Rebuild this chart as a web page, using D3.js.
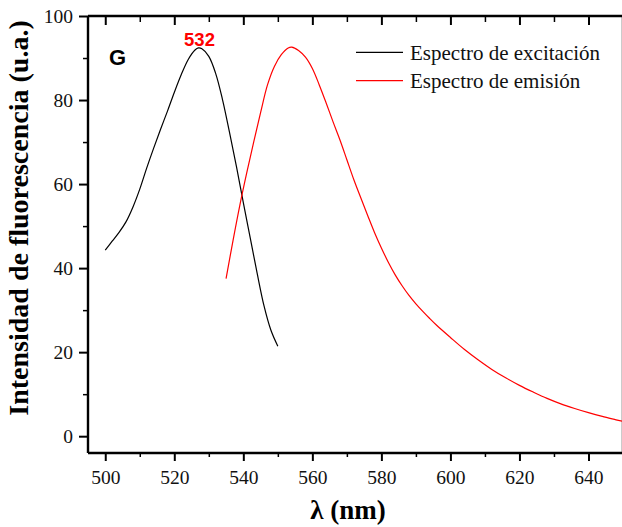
<!DOCTYPE html>
<html>
<head>
<meta charset="utf-8">
<script src="https://cdn.jsdelivr.net/npm/d3@7"></script>
<style>
  body { margin: 0; background: #fff; }
  svg { display: block; }
  .tick text { font-family: "Liberation Serif", "Times New Roman", serif; font-size: 19.5px; fill: #111; }
  .axis path, .axis line { stroke: #000; }
</style>
</head>
<body>
<div id="graph"></div>
<script>
// excitation spectrum (black)
const excWl = [500, 502, 504, 506, 508, 510, 512, 514, 516, 518, 520, 522, 524, 526, 527, 528, 530, 532, 534, 536, 538, 540, 542, 544, 546, 548, 550];
const excVal = [44.3, 46.4, 48.5, 51.0, 54.5, 58.8, 63.8, 68.5, 73.0, 77.3, 81.8, 86.0, 89.6, 91.9, 92.4, 92.2, 90.4, 86.3, 80.0, 72.3, 64.2, 55.6, 47.2, 38.8, 31.0, 25.2, 21.4];

// emission spectrum (red)
const emiWl = [535, 537, 539, 541, 543, 545, 547, 549, 551, 553, 554, 556, 558, 560, 562, 564, 566, 568, 570, 572, 574, 576, 578, 580, 582, 584, 586, 588, 590, 592, 594, 596, 600, 604, 608, 612, 616, 620, 624, 628, 632, 636, 640, 644, 648, 650];
const emiVal = [37.5, 46.5, 55.0, 62.7, 70.0, 77.0, 83.6, 88.0, 90.8, 92.4, 92.6, 91.8, 90.2, 87.5, 83.6, 79.3, 74.8, 70.5, 65.8, 61.1, 56.8, 52.6, 48.5, 44.8, 41.4, 38.4, 35.8, 33.5, 31.5, 29.7, 28.0, 26.4, 23.5, 20.7, 18.2, 15.9, 13.9, 12.1, 10.5, 9.0, 7.7, 6.6, 5.6, 4.7, 3.9, 3.5];

const xTicks = [500, 520, 540, 560, 580, 600, 620, 640];
const xMinor = [510, 530, 550, 570, 590, 610, 630, 650];
const yTicks = [0, 20, 40, 60, 80, 100];
const yMinor = [10, 30, 50, 70, 90];

const legendLabels = ["Espectro de excitación", "Espectro de emisión"];
const legendColors = ["#000", "#ff0000"];

const w = 622;
const h = 527;
const plotLeft = 88, plotRight = 623, plotTop = 16, plotBottom = 453;

const x = d3.scaleLinear().domain([495, 650]).range([plotLeft, plotRight]);
const y = d3.scaleLinear().domain([-4, 100]).range([plotBottom, plotTop]);

const svg = d3.select("#graph").append("svg").attr("width", w).attr("height", h);

// minor ticks first
svg.append("g").attr("class", "axis").attr("transform", `translate(0,${plotBottom})`)
  .call(d3.axisBottom(x).tickValues(xMinor).tickSize(4).tickFormat("").tickSizeOuter(0))
  .call(g => g.select(".domain").remove());
svg.append("g").attr("class", "axis").attr("transform", `translate(0,${plotTop})`)
  .call(d3.axisBottom(x).tickValues(xMinor).tickSize(6).tickFormat("").tickSizeOuter(0))
  .call(g => g.select(".domain").remove());
svg.append("g").attr("class", "axis").attr("transform", `translate(${plotLeft},0)`)
  .call(d3.axisLeft(y).tickValues(yMinor).tickSize(5).tickFormat("").tickSizeOuter(0))
  .call(g => g.select(".domain").remove());
svg.append("g").attr("class", "axis").attr("transform", `translate(${plotRight},0)`)
  .call(d3.axisLeft(y).tickValues(yMinor).tickSize(-5).tickFormat("").tickSizeOuter(0))
  .call(g => g.select(".domain").remove());
svg.selectAll(".axis line").attr("stroke-width", 1.5);

// major axes
const xAxis = svg.append("g").attr("class", "axis").attr("transform", `translate(0,${plotBottom})`)
  .call(d3.axisBottom(x).tickValues(xTicks).tickSize(8).tickPadding(9).tickSizeOuter(0));
const xTop = svg.append("g").attr("class", "axis").attr("transform", `translate(0,${plotTop})`)
  .call(d3.axisBottom(x).tickValues(xTicks).tickSize(9).tickFormat("").tickSizeOuter(0));
const yAxis = svg.append("g").attr("class", "axis").attr("transform", `translate(${plotLeft},0)`)
  .call(d3.axisLeft(y).tickValues(yTicks).tickSize(9).tickPadding(6).tickSizeOuter(0));
const yRight = svg.append("g").attr("class", "axis").attr("transform", `translate(${plotRight},0)`)
  .call(d3.axisLeft(y).tickValues(yTicks).tickSize(-8).tickFormat("").tickSizeOuter(0));

[xAxis, xTop, yAxis, yRight].forEach(g => {
  g.selectAll("line").attr("stroke-width", 2);
  g.select(".domain").attr("stroke-width", 2.4);
});
xAxis.select(".domain").attr("d", `M${plotLeft},0H${plotRight}`);
xTop.select(".domain").attr("d", `M${plotLeft},0H${plotRight}`);
yAxis.select(".domain").attr("d", `M0,${plotTop}V${plotBottom}`);
yRight.select(".domain").attr("d", `M0,${plotTop}V${plotBottom}`);

// curves
const line = d3.line().x(d => x(d[0])).y(d => y(d[1])).curve(d3.curveCatmullRom);

svg.append("path")
  .datum(d3.zip(excWl, excVal))
  .attr("d", line)
  .attr("fill", "none")
  .attr("stroke", legendColors[0])
  .attr("stroke-width", 1.2);

svg.append("path")
  .datum(d3.zip(emiWl, emiVal))
  .attr("d", line)
  .attr("fill", "none")
  .attr("stroke", legendColors[1])
  .attr("stroke-width", 1.2);

// axis titles
svg.append("text")
  .attr("transform", `translate(28,218) rotate(-90)`)
  .attr("text-anchor", "middle")
  .style("font-family", "Liberation Serif, Times New Roman, serif")
  .style("font-weight", "bold")
  .style("font-size", "28px")
  .text("Intensidad de fluorescencia (u.a.)");

svg.append("text")
  .attr("x", 348)
  .attr("y", 519)
  .attr("text-anchor", "middle")
  .style("font-family", "Liberation Serif, Times New Roman, serif")
  .style("font-weight", "bold")
  .style("font-size", "27px")
  .text("λ (nm)");

// annotations
svg.append("text")
  .attr("x", 109)
  .attr("y", 64.5)
  .style("font-family", "Liberation Sans, Arial, sans-serif")
  .style("font-weight", "bold")
  .style("font-size", "22px")
  .text("G");

svg.append("text")
  .attr("x", 199.5)
  .attr("y", 46)
  .attr("text-anchor", "middle")
  .attr("fill", "#ff0000")
  .style("font-family", "Liberation Sans, Arial, sans-serif")
  .style("font-weight", "bold")
  .style("font-size", "18.5px")
  .text("532");

// legend
const legend = svg.append("g").attr("id", "legend");
legendLabels.forEach((lab, i) => {
  const ly = 52.3 + i * 28.4;
  legend.append("line")
    .attr("x1", 356).attr("x2", 403)
    .attr("y1", ly).attr("y2", ly)
    .attr("stroke", legendColors[i])
    .attr("stroke-width", 1.2);
  legend.append("text")
    .attr("x", 410)
    .attr("y", ly + 7.5)
    .style("font-family", "Liberation Serif, Times New Roman, serif")
    .style("font-size", "21px")
    .attr("fill", "#111")
    .text(lab);
});
</script>
</body>
</html>
